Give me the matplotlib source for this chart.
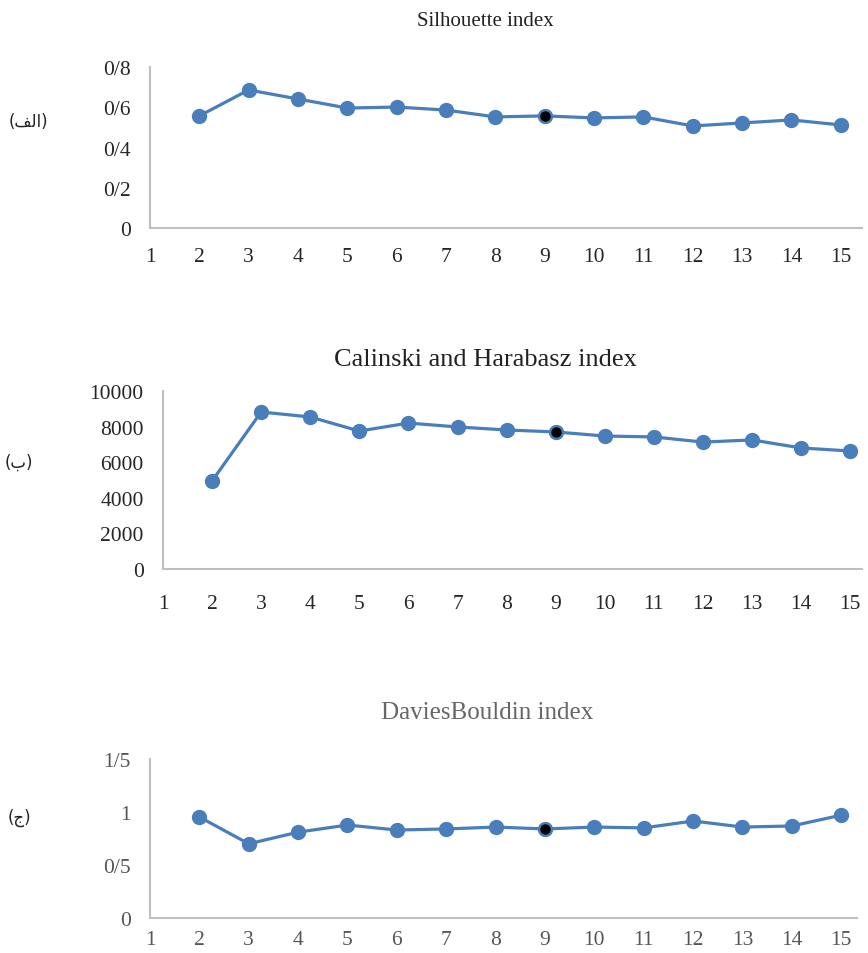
import matplotlib
matplotlib.use("Agg")
import matplotlib.pyplot as plt

clusters = list(range(2, 16))
silhouette = [0.557, 0.686, 0.641, 0.596, 0.601, 0.586, 0.552, 0.557, 0.547, 0.552, 0.507, 0.522, 0.537, 0.512]
calinski = [4950, 8820, 8540, 7750, 8200, 7980, 7810, 7700, 7470, 7420, 7130, 7250, 6800, 6630]
davies = [0.953, 0.70, 0.81, 0.877, 0.83, 0.84, 0.858, 0.84, 0.858, 0.85, 0.915, 0.858, 0.868, 0.97]
highlight_k = 9

titles = ["Silhouette index", "Calinski and Harabasz index", "DaviesBouldin index"]
panel_labels = ["(\uFED2\uFEDF\uFE8D)", "(\uFE8F)", "(\uFE9D)"]
yticks_list = [[0, 0.2, 0.4, 0.6, 0.8], [0, 2000, 4000, 6000, 8000, 10000], [0, 0.5, 1.0, 1.5]]
yticklabels_list = [["0", "0/2", "0/4", "0/6", "0/8"],
                    ["0", "2000", "4000", "6000", "8000", "10000"],
                    ["0", "0/5", "1", "1/5"]]
xticks = list(range(1, 16))

W, H = 868, 954
fig = plt.figure(figsize=(W / 100, H / 100), dpi=100)

def px_axes(left, top, right, bottom):
    return fig.add_axes([left / W, 1 - bottom / H, (right - left) / W, (bottom - top) / H])

boxes = [(150, 68, 862, 229), (163, 392, 862, 570), (150, 760, 857, 919)]
xmax = [15.43, 15.24, 15.32]
series = [silhouette, calinski, davies]
title_pos = [(485, 22, 15, "#222222"), (485, 360, 19, "#222222"), (487, 713, 18, "#666666")]
label_pos = [(28, 122), (19, 463), (19, 818)]
xpads = [14, 18, 9]
tick_colors = ["#262626", "#262626", "#555555"]

blue = "#4A7EBB"
serif = ["Liberation Serif", "DejaVu Serif"]

for i in range(3):
    ax = px_axes(*boxes[i])
    vals = series[i]
    ax.plot(clusters, vals, color=blue, lw=2.3, marker="o", ms=10,
            markerfacecolor=blue, markeredgecolor=blue, zorder=3, clip_on=False)
    idx = clusters.index(highlight_k)
    ax.plot([clusters[idx]], [vals[idx]], marker="o", ms=9, markerfacecolor="black",
            markeredgecolor=blue, markeredgewidth=1.5, ls="none", zorder=4, clip_on=False)
    ax.set_xlim(1, xmax[i])
    yt = yticks_list[i]
    ax.set_ylim(yt[0], yt[-1])
    ax.set_yticks(yt)
    ax.set_yticklabels(yticklabels_list[i], fontfamily=serif, fontsize=15.5, color=tick_colors[i])
    ax.set_xticks(xticks)
    ax.set_xticklabels([str(x) for x in xticks], fontfamily=serif, fontsize=15.5, color=tick_colors[i])
    ax.tick_params(length=0)
    ax.tick_params(axis="x", pad=xpads[i])
    ax.tick_params(axis="y", pad=14)
    for s in ["top", "right"]:
        ax.spines[s].set_visible(False)
    for s in ["left", "bottom"]:
        ax.spines[s].set_color("#BFBFBF")
        ax.spines[s].set_linewidth(1.5)
    tx, ty, fs, col = title_pos[i]
    fig.text(tx / W, 1 - ty / H, titles[i], ha="center", va="center",
             fontfamily=serif, fontsize=fs, color=col)
    lx, ly = label_pos[i]
    fig.text(lx / W, 1 - ly / H, panel_labels[i], ha="center", va="center",
             fontfamily=["DejaVu Sans"], fontsize=12, color="#222222")

fig.savefig("out.png", dpi=100)
